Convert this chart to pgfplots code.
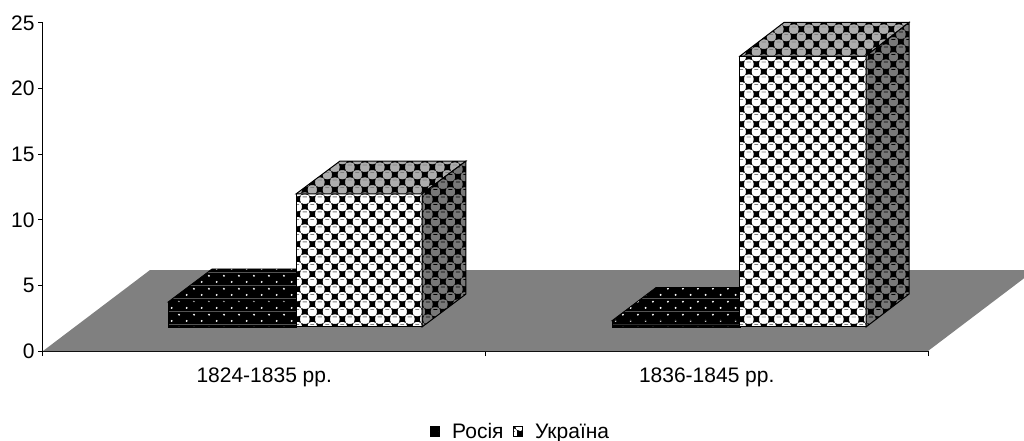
\documentclass[border=0pt]{standalone}
\usepackage{fontspec}
\setmainfont{Liberation Sans}
\usepackage{pgfplots}
\pgfplotsset{compat=1.18}
\usetikzlibrary{patterns}

% tiles: 15.3pt lattice of balls with black squares between them
\newcommand{\ball}[3]{%
  \pgfsetfillcolor{#3}\pgfpathcircle{\pgfqpoint{#1pt}{#2pt}}{5.3pt}\pgfusepath{fill}}
\newcommand{\blob}[2]{%
  \pgfsetfillcolor{black}\pgfpathrectangle{\pgfqpoint{#1pt}{#2pt}}{\pgfqpoint{5.6pt}{5.6pt}}\pgfusepath{fill}}
\newcommand{\ballmark}[3]{%
  \pgfsetstrokecolor{#3}\pgfsetlinewidth{0.8pt}%
  \pgfpathmoveto{\pgfpoint{#1pt-2pt}{#2pt+2.2pt}}\pgfpathlineto{\pgfpoint{#1pt+2pt}{#2pt+2.2pt}}\pgfusepath{stroke}}
\newcommand{\balltile}[3]{%
  \pgfdeclarepatterninherentlycolored{#1}{\pgfpointorigin}{\pgfqpoint{15.3pt}{15.3pt}}{\pgfqpoint{15.3pt}{15.3pt}}{%
    \pgfsetfillcolor{black}\pgfpathrectangle{\pgfpointorigin}{\pgfqpoint{15.3pt}{15.3pt}}\pgfusepath{fill}%
    \ball{0}{0}{#2}\ball{15.3}{0}{#2}\ball{0}{15.3}{#2}\ball{15.3}{15.3}{#2}\ball{7.65}{7.65}{#2}%
    \blob{4.85}{-2.8}\blob{4.85}{12.5}\blob{-2.8}{4.85}\blob{12.5}{4.85}%
    \ballmark{7.65}{7.65}{#3}\ballmark{0}{0}{#3}\ballmark{15.3}{0}{#3}\ballmark{0}{15.3}{#3}\ballmark{15.3}{15.3}{#3}%
  }}
\definecolor{floorgray}{gray}{0.5}
\definecolor{topball}{gray}{0.68}
\definecolor{sideball}{gray}{0.47}
\balltile{ballfront}{white}{gray}
\balltile{balltop}{topball}{gray}
\balltile{ballside}{sideball}{black}
\pgfdeclarepatterninherentlycolored{rusdots}{\pgfpointorigin}{\pgfqpoint{15.3pt}{13pt}}{\pgfqpoint{15.3pt}{13pt}}{%
  \pgfsetfillcolor{black}\pgfpathrectangle{\pgfpointorigin}{\pgfqpoint{15.3pt}{13pt}}\pgfusepath{fill}%
  \pgfsetfillcolor{white}%
  \pgfpathcircle{\pgfqpoint{3.8pt}{3.25pt}}{1.1pt}\pgfpathcircle{\pgfqpoint{11.45pt}{9.75pt}}{1.1pt}\pgfusepath{fill}}

\begin{document}
\begin{tikzpicture}
\path[use as bounding box] (-43pt,-90pt) rectangle (981pt,351pt);
\begin{axis}[
  at={(0pt,0pt)}, anchor=south west,
  scale only axis, width=885pt, height=328pt,
  xmin=0, xmax=2, ymin=0, ymax=25,
  clip=false,
  axis x line*=bottom, axis y line*=left,
  axis line style={-, line width=1pt},
  every tick/.style={black, line width=1pt},
  major tick length=5pt,
  tick align=outside,
  xtick={0,1,2}, xticklabels={},
  extra x ticks={0.5,1.5},
  extra x tick labels={1824-1835 рр.,1836-1845 рр.},
  extra x tick style={major tick length=0pt, tick label style={yshift=-13pt}},
  ytick={0,5,...,25},
  tick label style={font=\fontsize{21}{25}\selectfont, /pgf/number format/assume math mode=true},
  legend style={at={(axis cs:1.078,-6.15)}, anchor=center, draw=none, fill=none,
    legend columns=2, font=\fontsize{21}{25}\selectfont,
    /tikz/every odd column/.append style={column sep=12pt},
    /tikz/every even column/.append style={column sep=9pt},
    inner sep=0pt, nodes={inner sep=0.5pt}},
  legend cell align=left,
  legend image code/.code={\draw[#1] (0pt,-5pt) rectangle (8.5pt,5pt);},
]
% floor
\addplot[draw=none, fill=floorgray, forget plot] coordinates
  {(0,0) (0.2418,6.17) (2.2169,6.17) (2.2169,5.54) (2,0)} -- cycle;
% Росія, 1824-1835
\addplot[draw=black, line width=0.8pt, pattern=rusdots] coordinates
  {(0.2825,1.83) (0.5718,1.83) (0.5718,3.73) (0.2825,3.73)} -- cycle;
\addlegendentry{Росія}
\addplot[draw=black, line width=0.8pt, pattern=rusdots, forget plot] coordinates
  {(0.2825,3.73) (0.3819,6.25) (0.6712,6.25) (0.5718,3.73)} -- cycle;
% Україна, 1824-1835
\addplot[draw=black, line width=1pt, pattern=ballfront] coordinates
  {(0.5718,1.83) (0.8565,1.83) (0.8565,11.97) (0.5718,11.97)} -- cycle;
\addlegendentry{Україна}
\addplot[draw=black, line width=1pt, pattern=balltop, forget plot] coordinates
  {(0.5718,11.97) (0.6712,14.48) (0.9559,14.48) (0.8565,11.97)} -- cycle;
\addplot[draw=black, line width=1pt, pattern=ballside, forget plot] coordinates
  {(0.8565,1.83) (0.9559,4.34) (0.9559,14.48) (0.8565,11.97)} -- cycle;
% Росія, 1836-1845
\addplot[draw=black, line width=0.8pt, pattern=rusdots, forget plot] coordinates
  {(1.2859,1.83) (1.5751,1.83) (1.5751,2.31) (1.2859,2.31)} -- cycle;
\addplot[draw=black, line width=0.8pt, pattern=rusdots, forget plot] coordinates
  {(1.2859,2.31) (1.3853,4.84) (1.6745,4.84) (1.5751,2.31)} -- cycle;
% Україна, 1836-1845
\addplot[draw=black, line width=1pt, pattern=ballfront, forget plot] coordinates
  {(1.5751,1.83) (1.8599,1.83) (1.8599,22.48) (1.5751,22.48)} -- cycle;
\addplot[draw=black, line width=1pt, pattern=balltop, forget plot] coordinates
  {(1.5751,22.48) (1.6745,25.04) (1.9571,25.04) (1.8599,22.48)} -- cycle;
\addplot[draw=black, line width=1pt, pattern=ballside, forget plot] coordinates
  {(1.8599,1.83) (1.9571,4.34) (1.9571,25.04) (1.8599,22.48)} -- cycle;
\end{axis}
\end{tikzpicture}
\end{document}
